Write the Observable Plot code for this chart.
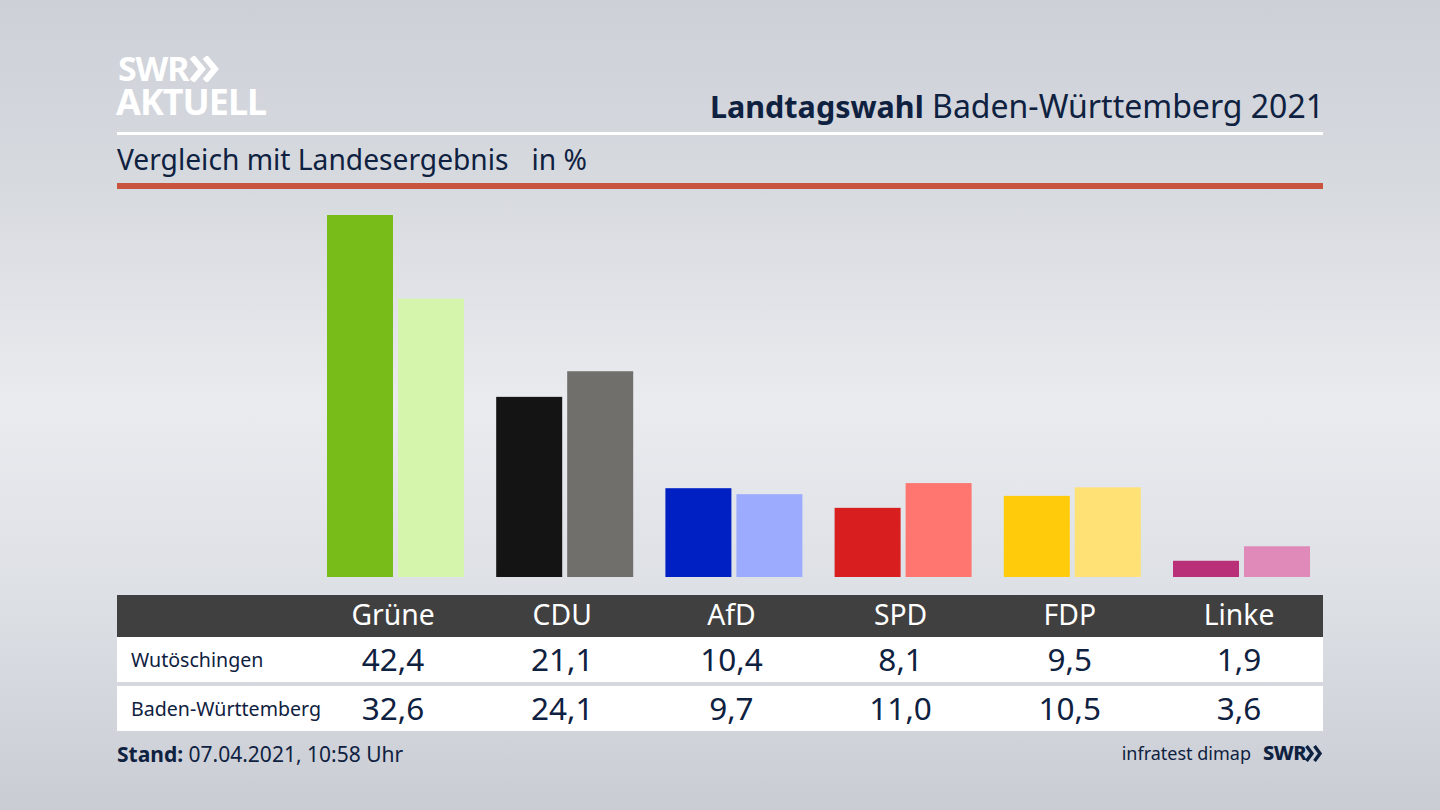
<!DOCTYPE html>
<html lang="de">
<head>
<meta charset="utf-8">
<script src="https://cdn.jsdelivr.net/npm/d3@7"></script>
<script src="https://cdn.jsdelivr.net/npm/@observablehq/plot@0.6"></script>
<style>
html,body{margin:0;padding:0;width:1440px;height:810px;overflow:hidden}
body{position:relative;font-family:"Noto Sans",sans-serif;color:#0f2140;
background:linear-gradient(180deg,#cdd0d7 0%,#d6d9de 22%,#e9ebef 50%,#dcdfe4 75%,#c9ccd3 100%)}
.a{position:absolute;white-space:nowrap}
.box{position:absolute;left:117px;width:1206px}
#chart{position:absolute;left:0;top:0}
#chart svg{background:transparent;display:block}
#logo{left:116px;top:51px;white-space:pre;font:700 36px/34px 'Noto Sans',sans-serif;color:#fff;letter-spacing:-1px;text-indent:2px}
#logo::first-line{font-size:34px;letter-spacing:-1.2px}
</style>
</head>
<body>
<div id="logo" class="a">SWR
AKTUELL</div>
<svg class="a" style="left:190px;top:56px" width="30" height="26" viewBox="0 0 30 26"><path d="M2 1 L12 13 L2 25 M15 1 L25 13 L15 25" fill="none" stroke="#fff" stroke-width="6"/></svg>
<div class="a" style="right:116px;top:84px;font-size:32px;line-height:44px"><b style="font-size:30.5px">Landtagswahl</b> Baden-Württemberg 2021</div>
<div class="box" style="top:132px;height:3px;background:#fff"></div>
<div class="a" style="left:117px;top:140px;font-size:28.2px;line-height:38px">Vergleich mit Landesergebnis<span style="margin-left:23px">in %</span></div>
<div class="box" style="top:183px;height:6px;background:#c9543d"></div>
<div class="box" style="top:595px;height:42px;background:#414040"></div>
<div class="box" style="top:637px;height:45px;background:#fff"></div>
<div class="box" style="top:686px;height:45px;background:#fff"></div>
<div class="a" style="left:131px;top:646px;font-size:19.6px;line-height:27px">Wutöschingen</div>
<div class="a" style="left:131px;top:695px;font-size:19.6px;line-height:27px">Baden-Württemberg</div>
<div class="a" style="left:117px;top:739px;font-size:21px;line-height:30px"><b>Stand:</b> 07.04.2021, 10:58 Uhr</div>
<div class="a" style="right:189px;top:739px;font-size:18px;line-height:28px">infratest dimap</div>
<div class="a" style="left:1263px;top:739px;font-size:20px;line-height:28px;font-weight:800;letter-spacing:-.5px">SWR</div>
<svg class="a" style="left:1305px;top:745px" width="18" height="17" viewBox="0 0 18 17"><path d="M1.5 1 L7 8.5 L1.5 16 M9.5 1 L15 8.5 L9.5 16" fill="none" stroke="#0f2140" stroke-width="3.4"/></svg>
<div id="chart"></div>
<script>
const parties = ["Grüne", "CDU", "AfD", "SPD", "FDP", "Linke"];
const seriesNames = ["Wutöschingen", "Baden-Württemberg"];
const wutoeschingen = [42.4, 21.1, 10.4, 8.1, 9.5, 1.9];
const badenWuerttemberg = [32.6, 24.1, 9.7, 11.0, 10.5, 3.6];
const colorsWutoeschingen = ["#78bc1a", "#141414", "#0020c4", "#d81e1e", "#ffcb0a", "#b92f78"];
const colorsLand = ["#d6f5ac", "#716f6c", "#9dabff", "#ff7670", "#ffe175", "#df8ab8"];

const fmt = v => v.toFixed(1).replace(".", ",");
const bars = parties.flatMap((party, i) => [
  {party, series: seriesNames[0], value: wutoeschingen[i], color: colorsWutoeschingen[i]},
  {party, series: seriesNames[1], value: badenWuerttemberg[i], color: colorsLand[i]}
]);
const valueText = (values, dy) => Plot.text(parties, {
  fx: d => d,
  text: d => fmt(values[parties.indexOf(d)]),
  frameAnchor: "top",
  lineAnchor: "middle",
  dx: -3,
  dy,
  fontSize: 31.5,
  fill: "#0f2140"
});

const plot = Plot.plot({
  width: 1440,
  height: 810,
  marginLeft: 310.9,
  marginRight: 113.9,
  marginTop: 0,
  marginBottom: 0,
  style: {fontFamily: "'Noto Sans',sans-serif", background: "transparent"},
  fx: {domain: parties, paddingInner: 0.1903, paddingOuter: 0.0951, round: false, axis: null},
  x: {domain: seriesNames, paddingInner: 0.0704, paddingOuter: 0, round: false, axis: null},
  y: {domain: [0, 42.4], range: [577, 215], axis: null},
  marks: [
    Plot.barY(bars, {fx: "party", x: "series", y: "value", fill: "color"}),
    Plot.text(parties, {fx: d => d, text: d => d, frameAnchor: "top", lineAnchor: "middle", dx: -3, dy: 615, fontSize: 28.3, fill: "#fff"}),
    valueText(wutoeschingen, 660),
    valueText(badenWuerttemberg, 709)
  ]
});
document.getElementById("chart").append(plot);
</script>
</body>
</html>
